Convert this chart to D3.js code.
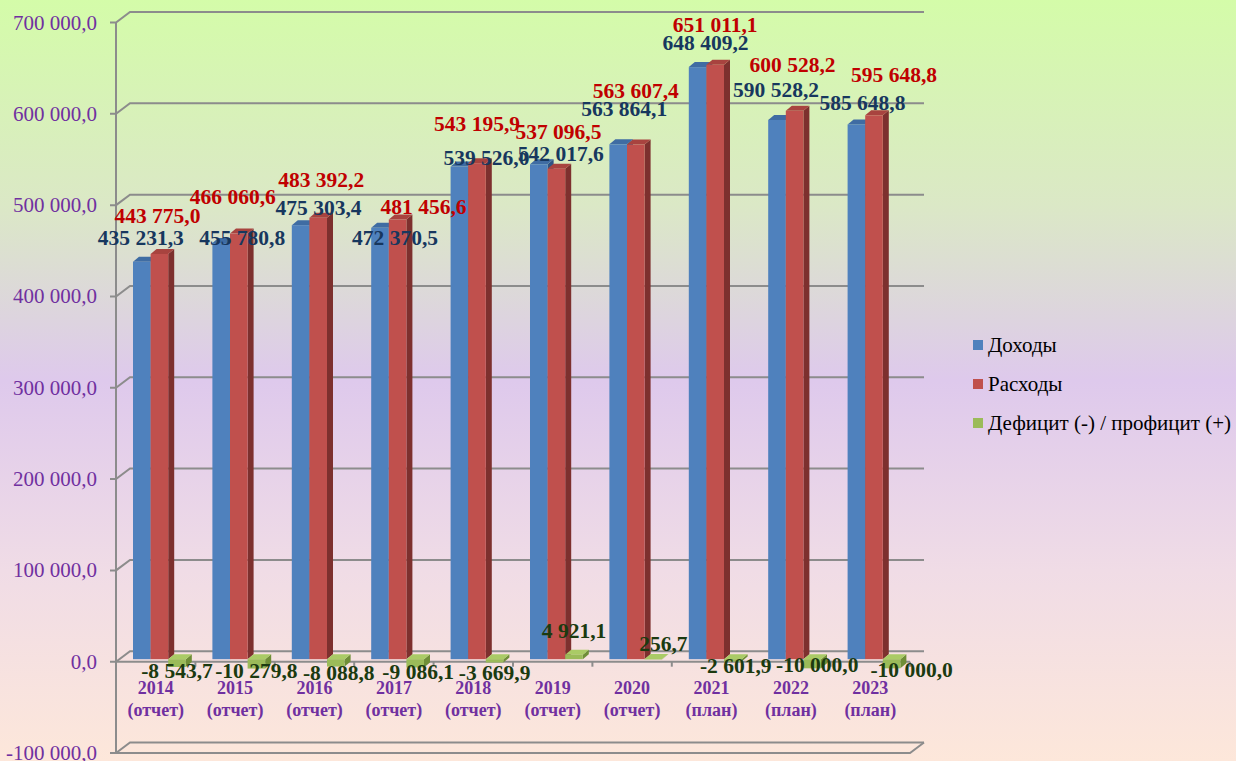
<!DOCTYPE html>
<html>
<head>
<meta charset="utf-8">
<script src="https://cdn.jsdelivr.net/npm/d3@7"></script>
<style>
  html, body { margin: 0; padding: 0; }
  svg { display: block; }
</style>
</head>
<body>
<div id="chart"></div>
<script>
var years = ['2014', '2015', '2016', '2017', '2018', '2019', '2020', '2021', '2022', '2023'];
var yearNotes = ['(отчет)', '(отчет)', '(отчет)', '(отчет)', '(отчет)', '(отчет)', '(отчет)', '(план)', '(план)', '(план)'];
var seriesNames = ['Доходы', 'Расходы', 'Дефицит (-) / профицит (+)'];
var income = [435231.3, 455780.8, 475303.4, 472370.5, 539526.0, 542017.6, 563864.1, 648409.2, 590528.2, 585648.8];
var spending = [443775.0, 466060.6, 483392.2, 481456.6, 543195.9, 537096.5, 563607.4, 651011.1, 600528.2, 595648.8];
var balance = [-8543.7, -10279.8, -8088.8, -9086.1, -3669.9, 4921.1, 256.7, -2601.9, -10000.0, -10000.0];
var yTicks = [-100000, 0, 100000, 200000, 300000, 400000, 500000, 600000, 700000];

// label nudges (px) relative to the end of each bar, as placed in the original
var incomeNudge = [[-1, -17], [21, 2], [18, -10], [15, 17], [27, -2], [22, -3], [6, -28], [8, -17], [-1, -23], [6, -14]];
var spendingNudge = [[-2, -31], [-6, -30], [3, -31], [26, -6], [0, -32], [2, -30], [0, -47], [0, -33], [-2, -39], [20, -33]];
var balanceNudge = [[0, 11], [0, 9], [3, 13], [3, 12], [0, 17], [0, -17], [10, -8], [3, 11], [5, 4], [20, 9]];

var width = 1236, height = 761;
var colors = {
  front: ['#4f81bd', '#c0504d', '#9bbb59'],
  top: ['#3f6ca3', '#a8433f', '#aacb66'],
  side: ['#2f5485', '#7d302e', '#6f8e37'],
  label: ['#17375e', '#c00000', '#1b3a10']
};
var depth = { dx: 6, dy: -5 }, wall = { dx: 14, dy: -10.5 }, barLift = 2.5;
var serif = '"Times New Roman", "Liberation Serif", serif';

var ru = d3.formatLocale({ decimal: ',', thousands: '\u00a0', grouping: [3], currency: ['', ''], minus: '-' });
var fmt = ru.format(',.1f');

var svg = d3.select('#chart')
            .append('svg')
              .attr('width', width)
              .attr('height', height);

var grad = svg.append('defs')
              .append('linearGradient')
                .attr('id', 'bg')
                .attr('x1', 0).attr('y1', 0)
                .attr('x2', 0).attr('y2', 1);
[['0%', '#d4fca9'], ['27%', '#dbe8c6'], ['50%', '#dec9ec'], ['75%', '#f0dce6'], ['100%', '#fde7da']]
  .forEach(function(s) {
    grad.append('stop').attr('offset', s[0]).attr('stop-color', s[1]);
  });
svg.append('rect')
   .attr('width', width)
   .attr('height', height)
   .attr('fill', 'url(#bg)');

var x = d3.scaleBand().domain(years).range([116, 910]).padding(0);
var inner = d3.scaleBand().domain([0, 1, 2]).range([17, 17 + 3 * 17.6]).padding(0);
var y = d3.scaleLinear().domain([-100000, 700000]).range([753, 22.5]);

var gridColor = '#8c8c8c';
var grid = svg.append('g')
              .attr('stroke', gridColor)
              .attr('stroke-width', 2)
              .attr('fill', 'none');

// back wall lines + left side diagonals
grid.selectAll('.back')
    .data(yTicks)
    .enter()
    .append('path')
    .attr('class', 'back')
    .attr('d', function(d) {
      var yf = y(d);
      return 'M110,' + yf + 'L116,' + yf + 'L' + (116 + wall.dx) + ',' + (yf + wall.dy) +
             'L' + (910 + wall.dx) + ',' + (yf + wall.dy);
    });

// front floor edge at the minimum, front axis line at zero
grid.append('path')
    .attr('d', 'M116,' + y(-100000) + 'L910,' + y(-100000) + 'L' + (910 + wall.dx) + ',' + (y(-100000) + wall.dy));
grid.append('path')
    .attr('d', 'M116,' + y(0) + 'L910,' + y(0));
grid.append('path')
    .attr('d', 'M116,' + y(700000) + 'L116,' + y(-100000));
grid.selectAll('.xtick')
    .data(years)
    .enter()
    .append('path')
    .attr('class', 'xtick')
    .attr('d', function(d) {
      var xx = x(d);
      return 'M' + xx + ',' + y(0) + 'L' + xx + ',' + (y(0) + 5);
    });
grid.append('path')
    .attr('d', 'M910,' + y(0) + 'L910,' + (y(0) + 5));

// y tick labels
svg.append('g')
   .selectAll('text')
   .data(yTicks)
   .enter()
   .append('text')
   .attr('x', 97)
   .attr('y', function(d) { return y(d) + 7; })
   .attr('text-anchor', 'end')
   .style('font-family', serif)
   .style('font-size', '21px')
   .style('fill', '#7030a0')
   .text(function(d) { return fmt(d); });

// category labels
var cats = svg.append('g')
              .selectAll('g')
              .data(years)
              .enter()
              .append('g')
              .attr('transform', function(d) { return 'translate(' + (x(d) + x.bandwidth() / 2) + ',0)'; })
              .style('font-family', serif)
              .style('font-size', '18px')
              .style('font-weight', 'bold')
              .style('fill', '#7030a0')
              .attr('text-anchor', 'middle');
cats.append('text').attr('y', 694).text(function(d) { return d; });
cats.append('text').attr('y', 716).text(function(d, i) { return yearNotes[i]; });

var seriesValues = [income, spending, balance];
var nudges = [incomeNudge, spendingNudge, balanceNudge];

function barPoints(i, s) {
  var v = seriesValues[s][i];
  var x0 = x(years[i]) + inner(s), w = inner.bandwidth();
  var zero = y(0) - barLift, yv = y(v) - barLift;
  var top = Math.min(zero, yv), bot = Math.max(zero, yv);
  return { x0: x0, w: w, top: top, bot: bot, yv: yv, cx: x0 + w / 2 };
}

var bars = svg.append('g');
years.forEach(function(year, i) {
  [0, 1, 2].forEach(function(s) {
    var b = barPoints(i, s);
    var g = bars.append('g');
    g.append('polygon')
     .attr('points', [[b.x0 + b.w, b.top], [b.x0 + b.w + depth.dx, b.top + depth.dy],
                      [b.x0 + b.w + depth.dx, b.bot + depth.dy], [b.x0 + b.w, b.bot]].join(' '))
     .attr('fill', colors.side[s]);
    g.append('polygon')
     .attr('points', [[b.x0, b.top], [b.x0 + depth.dx, b.top + depth.dy],
                      [b.x0 + b.w + depth.dx, b.top + depth.dy], [b.x0 + b.w, b.top]].join(' '))
     .attr('fill', colors.top[s]);
    g.append('rect')
     .attr('x', b.x0)
     .attr('y', b.top)
     .attr('width', b.w)
     .attr('height', Math.max(b.bot - b.top, 0.5))
     .attr('fill', colors.front[s]);
  });
});

// data labels
var labels = svg.append('g')
                .style('font-family', serif)
                .style('font-size', '21.5px')
                .style('font-weight', 'bold')
                .attr('text-anchor', 'middle');
[0, 1, 2].forEach(function(s) {
  years.forEach(function(year, i) {
    var b = barPoints(i, s), n = nudges[s][i];
    labels.append('text')
          .attr('x', b.cx + n[0])
          .attr('y', b.yv + n[1])
          .style('fill', colors.label[s])
          .text(fmt(seriesValues[s][i]));
  });
});

// legend
var legend = svg.selectAll('.legend-key')
                .data(seriesNames)
                .enter()
                .append('g')
                .attr('class', 'legend-key')
                .attr('transform', function(d, i) { return 'translate(973,' + (340 + i * 39) + ')'; });
legend.append('rect')
      .attr('width', 10)
      .attr('height', 10)
      .style('fill', function(d, i) { return colors.front[i]; });
legend.append('text')
      .attr('x', 15)
      .attr('y', 12)
      .style('font-family', serif)
      .style('font-size', '21px')
      .style('fill', '#000')
      .text(function(d) { return d; });
</script>
</body>
</html>
